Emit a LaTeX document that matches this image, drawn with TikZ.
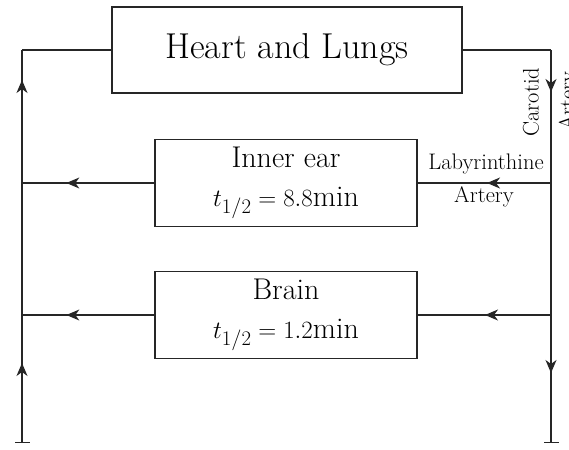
\documentclass[tikz,border=0pt]{standalone}
\usetikzlibrary{arrows.meta,decorations.markings}
\begin{document}
\begin{tikzpicture}[x=1pt,y=-1pt,line width=1.3pt,draw=black!85,
  organ/.style={draw,align=center,inner sep=0pt,font=\fontsize{30}{39}\selectfont,
    minimum width=262pt,minimum height=87pt},
  hlbox/.style={draw,inner sep=0pt,font=\fontsize{36}{40}\selectfont,
    minimum width=350pt,minimum height=86pt},
  lbl/.style={font=\fontsize{22.5}{26}\selectfont,inner sep=0pt},
  markat/.style={postaction={decorate,decoration={markings,
    mark=at position #1 with {\arrow{Stealth[length=13pt,width=11pt,inset=4pt]}}}}},
  endbar/.style={-{Bar[width=15pt,line width=1.3pt]}}]
\useasboundingbox (0,0) rectangle (569,449);
\node[hlbox] (hl) at (287,50) {Heart and Lungs};
\node[organ] (ie) at (286,183) {Inner ear\\$t_{1/2}=8.8$min};
\node[organ] (br) at (286,315) {Brain\\$t_{1/2}=1.2$min};
\coordinate (cL) at (22,50);
\coordinate (cLb) at (22,443);
\coordinate (cR) at (551,50);
\coordinate (cRb) at (551,443);
\coordinate (jL1) at (22,183);
\coordinate (jL2) at (22,315);
\coordinate (jR1) at (551,183);
\coordinate (jR2) at (551,315);
% left return
\draw (hl.west) -- (cL);
\draw[markat=80pt,markat=363pt] (cLb) -- (cL);
\draw[endbar] (jL2) -- (cLb);
% right supply
\draw (hl.east) -- (cR);
\draw[markat=42pt,markat=323pt] (cR) -- (cRb);
\draw[endbar] (jR2) -- (cRb);
% branches
\draw[markat=64pt] (jR1) -- (ie.east);
\draw[markat=66pt] (jR2) -- (br.east);
\draw[markat=88pt] (ie.west) -- (jL1);
\draw[markat=88pt] (br.west) -- (jL2);
% labels
\node[lbl,rotate=90] (car) at (531,102) {Carotid};
\node[lbl,rotate=90] (art1) at (569,101) {Artery};
\node[lbl] (lab) at (486,164) {Labyrinthine};
\node[lbl] (art2) at (484,197) {Artery};
\end{tikzpicture}
\end{document}
